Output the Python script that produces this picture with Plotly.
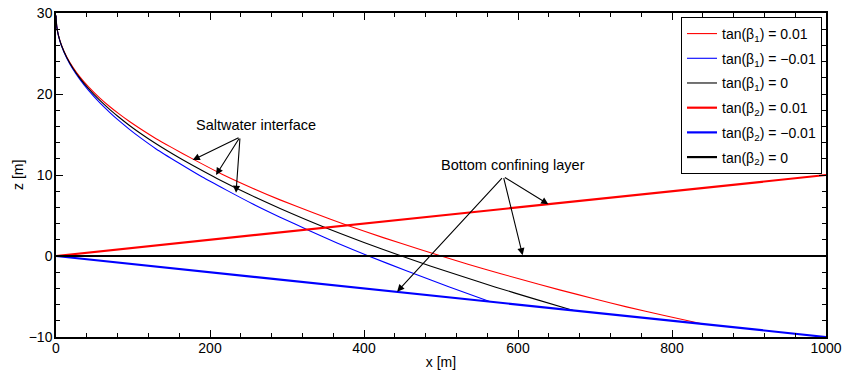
import plotly.graph_objects as go

# ---- data ----
# saltwater interfaces (thin lines)
x_int_pos = [0, 1, 3, 7, 14, 22, 31, 42, 57, 70, 81, 95, 109, 130, 150, 178, 215, 256, 291, 335,
             378, 425, 473, 515, 555, 600, 654, 700, 741, 790, 840]
z_int_pos = [29.7, 28.31, 27.3, 26.06, 24.58, 23.3, 22.12, 20.91, 19.5, 18.43, 17.61, 16.63, 15.74,
             14.48, 13.41, 11.96, 10.13, 8.34, 6.93, 5.3, 3.8, 2.27, 0.8, -0.43, -1.58, -2.78, -4.18,
             -5.3, -6.28, -7.35, -8.4]

x_int_neg = [0, 1, 3, 7, 14, 22, 31, 42, 57, 70, 81, 95, 109, 130, 160, 190, 222, 255, 291, 330,
             365, 405, 455, 510, 564]
z_int_neg = [29.7, 28.31, 27.28, 25.98, 24.42, 23.06, 21.8, 20.47, 18.9, 17.71, 16.77, 15.67, 14.64,
             13.22, 11.45, 9.75, 8.1, 6.45, 4.79, 3.09, 1.62, 0.04, -1.83, -3.79, -5.64]

x_int_zero = [0, 1, 3, 7, 14, 22, 31, 42, 57, 70, 81, 95, 109, 130, 160, 185, 209, 250, 291, 347,
              400, 445, 486, 530, 570, 620, 672]
z_int_zero = [29.7, 28.31, 27.29, 26.02, 24.5, 23.18, 21.96, 20.69, 19.2, 18.07, 17.19, 16.15, 15.19,
              13.85, 12.12, 10.79, 9.57, 7.64, 5.87, 3.62, 1.68, 0.12, -1.24, -2.6, -3.82, -5.26, -6.72]

# bottom confining layers (thick lines)
x_bot = [0, 1000]
z_bot_pos = [0, 10]
z_bot_neg = [0, -10]
z_bot_zero = [0, 0]

legend_names = [
    "tan(β<sub>1</sub>) = 0.01",
    "tan(β<sub>1</sub>) = \u22120.01",
    "tan(β<sub>1</sub>) = 0",
    "tan(β<sub>2</sub>) = 0.01",
    "tan(β<sub>2</sub>) = \u22120.01",
    "tan(β<sub>2</sub>) = 0",
]

x_ticks = [0, 200, 400, 600, 800, 1000]
y_ticks = [-10, 0, 10, 20, 30]

# annotation arrows: (tail x, tail z, head x, head z)
salt_label = "Saltwater interface"
salt_label_pos = (260, 16.2)
salt_arrows = [(239, 14.7, 177.5, 11.85), (239, 14.7, 207.8, 10.0), (239, 14.7, 233.8, 7.8)]

bottom_label = "Bottom confining layer"
bottom_label_pos = (594, 11.2)
bottom_arrows = [(581, 9.8, 639.4, 6.4), (581, 9.8, 606, 0.1), (581, 9.8, 443, -4.4)]

RED, BLUE, BLACK = "#ff0000", "#0000ff", "#000000"
FONT = "Liberation Sans, Arial, Helvetica, sans-serif"

fig = go.Figure()
series = [
    (x_int_pos, z_int_pos, RED, 1.1),
    (x_int_neg, z_int_neg, BLUE, 1.1),
    (x_int_zero, z_int_zero, BLACK, 1.1),
    (x_bot, z_bot_pos, RED, 2.2),
    (x_bot, z_bot_neg, BLUE, 2.2),
    (x_bot, z_bot_zero, BLACK, 2.2),
]
for i, (xs, zs, col, w) in enumerate(series):
    fig.add_trace(go.Scatter(
        x=xs, y=zs, mode="lines", name=legend_names[i],
        legendgroup="g%d" % i,
        line=dict(color=col, width=w, shape="spline" if w < 2 else "linear", smoothing=0.6),
    ))

annotations = []
for (tx, tz, hx, hz) in salt_arrows + bottom_arrows:
    annotations.append(dict(
        x=hx, y=hz, ax=tx, ay=tz, xref="x", yref="y", axref="x", ayref="y",
        text="", showarrow=True, arrowhead=2, arrowsize=1.3, arrowwidth=1.1,
        arrowcolor="black", standoff=0, startstandoff=0,
    ))
annotations.append(dict(x=salt_label_pos[0], y=salt_label_pos[1], xref="x", yref="y",
                        text=salt_label, showarrow=False,
                        font=dict(size=14.5, color="black", family=FONT)))
annotations.append(dict(x=bottom_label_pos[0], y=bottom_label_pos[1], xref="x", yref="y",
                        text=bottom_label, showarrow=False,
                        font=dict(size=14.5, color="black", family=FONT)))
# y-axis title placed like the reference
annotations.append(dict(x=-0.0494, y=0.5, xref="paper", yref="paper", text="z [m]",
                        textangle=-90, showarrow=False, xanchor="center", yanchor="middle",
                        font=dict(size=14, color="black", family=FONT)))

axis_common = dict(
    showgrid=False, zeroline=False, showline=True, linecolor="black", linewidth=1.5,
    mirror="ticks", ticks="inside", ticklen=7, tickwidth=1.2, tickcolor="black",
    tickfont=dict(size=14, color="black", family=FONT), automargin=False,
)

fig.update_layout(
    width=846, height=375,
    margin=dict(l=56, r=20, t=13, b=38),
    paper_bgcolor="white", plot_bgcolor="white",
    font=dict(family=FONT, size=14, color="black"),
    xaxis=dict(range=[0, 1000], tickvals=x_ticks, ticklabelstandoff=-3,
               title=dict(text="x [m]", standoff=3, font=dict(size=14)),
               minor=dict(dtick=40, ticklen=4, ticks="inside", tickcolor="black", tickwidth=1),
               **axis_common),
    yaxis=dict(range=[-10, 30], tickvals=y_ticks, ticklabelstandoff=-1,
               minor=dict(dtick=2, ticklen=4, ticks="inside", tickcolor="black", tickwidth=1),
               **axis_common),
    legend=dict(x=0.9948, y=0.9877, xanchor="right", yanchor="top",
                bgcolor="white", bordercolor="black", borderwidth=1,
                font=dict(size=14, family=FONT), tracegroupgap=3.5,
                itemwidth=30),
    annotations=annotations,
    showlegend=True,
)

fig.write_html("out.html")
